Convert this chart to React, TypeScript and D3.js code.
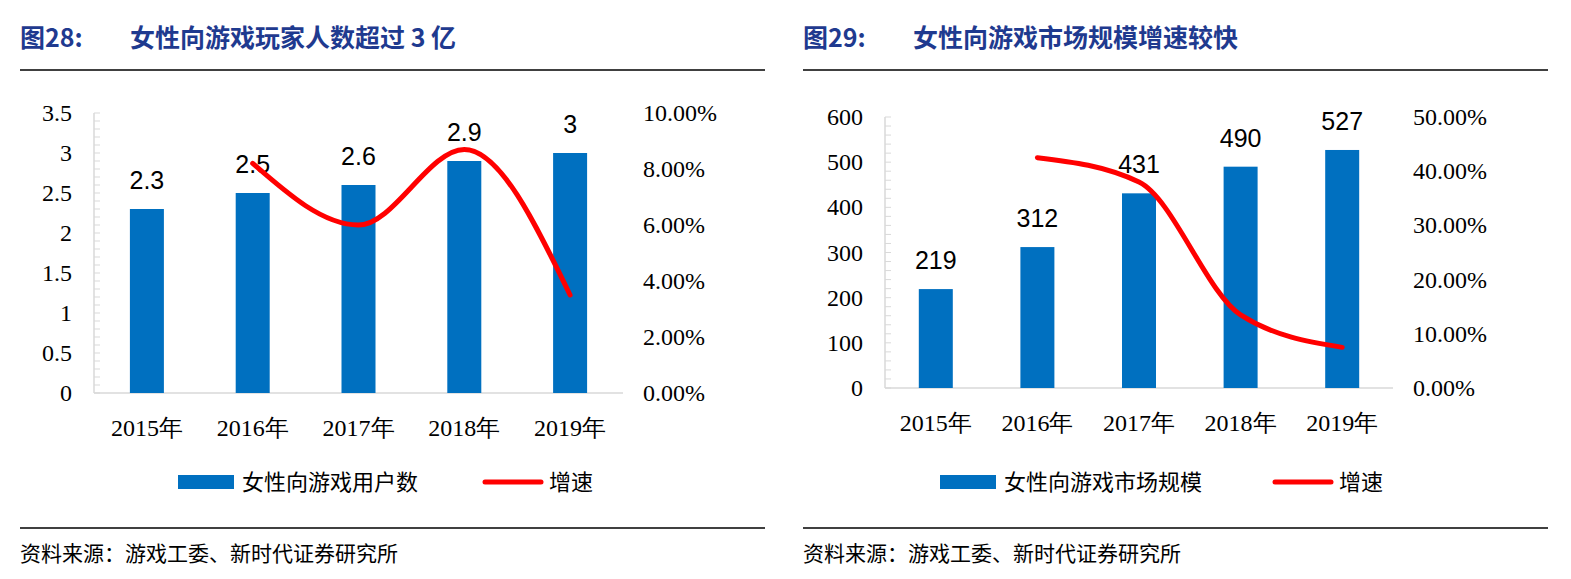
import React, { useEffect, useRef } from 'react';
import * as d3 from 'd3';

const years = ['2015年', '2016年', '2017年', '2018年', '2019年'];
const users = [2.3, 2.5, 2.6, 2.9, 3];
const userGrowth = [null, 0.082, 0.06, 0.087, 0.035];
const market = [219, 312, 431, 490, 527];
const marketGrowth = [null, 0.425, 0.38, 0.135, 0.075];

interface PanelCfg {
  x0: number;
  fig: string;
  title: string;
  bars: number[];
  growth: (number | null)[];
  leftMax: number;
  leftStep: number;
  minor: number;
  rightMax: number;
  rightStep: number;
  top: number;
  bottom: number;
  plotL: number;
  plotR: number;
  barLegend: string;
  legendX: number;
  growthLegendX: number;
}

const panels: PanelCfg[] = [
  { x0: 20, fig: '图28:', title: '女性向游戏玩家人数超过 3 亿', bars: users, growth: userGrowth, leftMax: 3.5, leftStep: 0.5, minor: 0.1,
    rightMax: 0.1, rightStep: 0.02, top: 113, bottom: 393, plotL: 94, plotR: 623, barLegend: '女性向游戏用户数', legendX: 178, growthLegendX: 485 },
  { x0: 803, fig: '图29:', title: '女性向游戏市场规模增速较快', bars: market, growth: marketGrowth, leftMax: 600, leftStep: 100, minor: 20,
    rightMax: 0.5, rightStep: 0.1, top: 117, bottom: 388, plotL: 885, plotR: 1393, barLegend: '女性向游戏市场规模', legendX: 940, growthLegendX: 1275 },
];

const serif = '"Liberation Serif", "Times New Roman", serif';
const cjk = '"Noto Sans CJK SC", sans-serif';

export default function App() {
  const ref = useRef<SVGSVGElement>(null);
  useEffect(() => {
    const svg = d3.select(ref.current!);
    svg.selectAll('*').remove();
    panels.forEach(p => {
      const g = svg.append('g');
      g.append('text').attr('x', p.x0).attr('y', 47).attr('fill', '#1f3a8f').attr('font-size', 25)
        .attr('font-weight', 'bold').attr('font-family', cjk).text(p.fig);
      g.append('text').attr('x', p.x0 + 110).attr('y', 47).attr('fill', '#1f3a8f').attr('font-size', 25)
        .attr('font-weight', 'bold').attr('font-family', cjk).text(p.title);
      g.append('line').attr('x1', p.x0).attr('x2', p.x0 + 745).attr('y1', 70).attr('y2', 70).attr('stroke', '#000').attr('stroke-width', 1.5);
      g.append('line').attr('x1', p.x0).attr('x2', p.x0 + 745).attr('y1', 528).attr('y2', 528).attr('stroke', '#000').attr('stroke-width', 1.5);
      g.append('text').attr('x', p.x0).attr('y', 561).attr('font-size', 21).attr('font-family', cjk)
        .text('资料来源：游戏工委、新时代证券研究所');

      const x = d3.scaleBand().domain(years).range([p.plotL, p.plotR]);
      const y = d3.scaleLinear().domain([0, p.leftMax]).range([p.bottom, p.top]);
      const y2 = d3.scaleLinear().domain([0, p.rightMax]).range([p.bottom, p.top]);

      g.append('line').attr('x1', p.plotL).attr('x2', p.plotL).attr('y1', p.top).attr('y2', p.bottom).attr('stroke', '#d9d9d9').attr('stroke-width', 1.5);
      const minorTicks = d3.range(0, p.leftMax + p.minor / 2, p.minor);
      g.selectAll('.mt').data(minorTicks).enter().append('line')
        .attr('x1', p.plotL).attr('x2', p.plotL + 6).attr('y1', d => y(d)).attr('y2', d => y(d)).attr('stroke', '#d9d9d9');
      g.selectAll('.lt').data(d3.range(0, p.leftMax + p.leftStep / 2, p.leftStep)).enter().append('text')
        .attr('x', p.plotL - 22).attr('y', d => y(d) + 8).attr('text-anchor', 'end').attr('font-size', 24).attr('font-family', serif)
        .text(d => d3.format('~g')(+d.toFixed(2)));
      g.selectAll('.rt').data(d3.range(0, p.rightMax + p.rightStep / 2, p.rightStep)).enter().append('text')
        .attr('x', p.plotR + 20).attr('y', d => y2(d) + 8).attr('font-size', 24).attr('font-family', serif)
        .text(d => d3.format('.2%')(d));
      g.append('line').attr('x1', p.plotL).attr('x2', p.plotR).attr('y1', p.bottom).attr('y2', p.bottom).attr('stroke', '#d9d9d9').attr('stroke-width', 1.5);

      g.selectAll('.bar').data(p.bars).enter().append('rect')
        .attr('x', (_, i) => x(years[i])! + x.bandwidth() / 2 - 17).attr('width', 34)
        .attr('y', d => y(d)).attr('height', d => p.bottom - y(d)).attr('fill', '#0070c0');
      g.selectAll('.bl').data(p.bars).enter().append('text')
        .attr('x', (_, i) => x(years[i])! + x.bandwidth() / 2).attr('y', d => y(d) - 20)
        .attr('text-anchor', 'middle').attr('font-size', 25).attr('font-family', '"Liberation Sans", Arial, sans-serif').text(d => d);
      g.selectAll('.xl').data(years).enter().append('text')
        .attr('x', d => x(d)! + x.bandwidth() / 2).attr('y', p.bottom + 43).attr('text-anchor', 'middle')
        .attr('font-size', 24).attr('font-family', serif).text(d => d);

      const pts = p.growth.map((v, i) => ({ v, c: years[i] })).filter(d => d.v !== null) as { v: number; c: string }[];
      const line = d3.line<{ v: number; c: string }>().x(d => x(d.c)! + x.bandwidth() / 2).y(d => y2(d.v)).curve(d3.curveMonotoneX);
      g.append('path').datum(pts).attr('d', line).attr('fill', 'none').attr('stroke', '#ff0000').attr('stroke-width', 5).attr('stroke-linecap', 'round');

      const ly = 482;
      g.append('rect').attr('x', p.legendX).attr('y', ly - 7).attr('width', 56).attr('height', 14).attr('fill', '#0070c0');
      g.append('text').attr('x', p.legendX + 64).attr('y', ly + 8).attr('font-size', 22).attr('font-family', cjk).text(p.barLegend);
      g.append('line').attr('x1', p.growthLegendX).attr('x2', p.growthLegendX + 56).attr('y1', ly).attr('y2', ly).attr('stroke', '#ff0000').attr('stroke-width', 5).attr('stroke-linecap', 'round');
      g.append('text').attr('x', p.growthLegendX + 64).attr('y', ly + 8).attr('font-size', 22).attr('font-family', cjk).text('增速');
    });
  }, []);
  return <svg ref={ref} width={1571} height={579} style={{ position: 'absolute', left: 0, top: 0, background: '#fff' }} />;
}
